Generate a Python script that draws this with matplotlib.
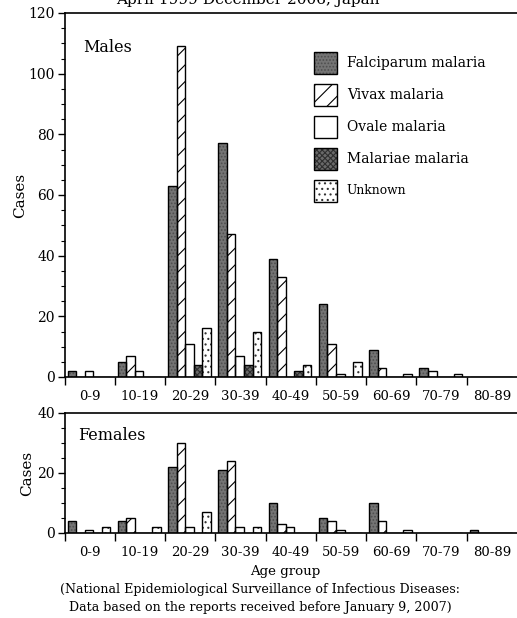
import numpy as np
import matplotlib
matplotlib.use("Agg")
import matplotlib.pyplot as plt
from matplotlib.patches import Rectangle

plt.rcParams["font.family"] = ["DejaVu Serif"]
plt.rcParams["hatch.linewidth"] = 0.8

age_groups = ["0-9", "10-19", "20-29", "30-39", "40-49", "50-59", "60-69", "70-79", "80-89"]
species = ["Falciparum malaria", "Vivax malaria", "Ovale malaria", "Malariae malaria", "Unknown"]

males_falciparum = [2, 5, 63, 77, 39, 24, 9, 3, 0]
males_vivax = [0, 7, 109, 47, 33, 11, 3, 2, 0]
males_ovale = [2, 2, 11, 7, 0, 1, 0, 0, 0]
males_malariae = [0, 0, 4, 4, 2, 0, 0, 0, 0]
males_unknown = [0, 0, 16, 15, 4, 5, 1, 1, 0]

females_falciparum = [4, 4, 22, 21, 10, 5, 10, 0, 1]
females_vivax = [0, 5, 30, 24, 3, 4, 4, 0, 0]
females_ovale = [1, 0, 2, 2, 2, 1, 0, 0, 0]
females_malariae = [0, 0, 0, 0, 0, 0, 0, 0, 0]
females_unknown = [2, 2, 7, 2, 0, 0, 1, 0, 0]

# fill, hatch colour, hatch pattern for each species
styles = [
    dict(face="#747474", hcol="#4e4e4e", hatch="....."),
    dict(face="white", hcol="black", hatch="//"),
    dict(face="white", hcol="white", hatch=""),
    dict(face="#6a6a6a", hcol="#2e2e2e", hatch="xxxxxx"),
    dict(face="white", hcol="#333333", hatch="..."),
]

BAR_W = 0.17
OFFSET = 0.06


def draw_bars(ax, series):
    x0 = np.arange(len(age_groups)) + OFFSET
    for j, vals in enumerate(series):
        st = styles[j]
        xs = x0 + j * BAR_W
        ax.bar(xs, vals, width=BAR_W, align="edge", color=st["face"],
               hatch=st["hatch"], edgecolor=st["hcol"], linewidth=0, zorder=2)
        ax.bar(xs, vals, width=BAR_W, align="edge", fill=False,
               edgecolor="black", linewidth=1.0, zorder=3)


def style_axis(ax, ymax, major, minor):
    ax.set_xlim(0, 9)
    ax.set_ylim(0, ymax)
    ax.spines["right"].set_visible(False)
    for s in ("left", "top", "bottom"):
        ax.spines[s].set_linewidth(1.2)
    ax.set_xticks(np.arange(0, 9))
    ax.set_xticklabels([])
    ax.set_xticks(np.arange(len(age_groups)) + 0.5, minor=True)
    ax.set_xticklabels(age_groups, minor=True, fontsize=9.5)
    ax.tick_params(axis="x", which="major", direction="out", length=6, width=1)
    ax.tick_params(axis="x", which="minor", length=0, pad=9)
    ax.set_yticks(np.arange(0, ymax + 1, major))
    ax.set_yticks(np.arange(0, ymax + 1, minor), minor=True)
    ax.tick_params(axis="y", which="major", direction="out", length=5, width=1,
                   labelsize=10, pad=2)
    ax.tick_params(axis="y", which="minor", direction="out", length=3, width=0.8)


fig = plt.figure(figsize=(5.17, 6.18), dpi=100)
W, H = 517, 618

ax_m = fig.add_axes([64.5 / W, 1 - 377 / H, (W - 64.5) / W, (377 - 13) / H])
ax_f = fig.add_axes([64.5 / W, 1 - 533 / H, (W - 64.5) / W, (533 - 413) / H])

draw_bars(ax_m, [males_falciparum, males_vivax, males_ovale, males_malariae, males_unknown])
draw_bars(ax_f, [females_falciparum, females_vivax, females_ovale, females_malariae, females_unknown])
style_axis(ax_m, 120, 20, 5)
style_axis(ax_f, 40, 20, 5)

ax_m.text(0.041, 0.904, "Males", transform=ax_m.transAxes, fontsize=11.5, va="center")
ax_f.text(0.03, 0.81, "Females", transform=ax_f.transAxes, fontsize=11.5, va="center")

# legend boxes
leg_y = [0.863, 0.775, 0.687, 0.599, 0.511]
for j, name in enumerate(species):
    st = styles[j]
    r = Rectangle((0.551, leg_y[j] - 0.03), 0.051, 0.06, transform=ax_m.transAxes,
                  facecolor=st["face"], hatch=st["hatch"], edgecolor=st["hcol"],
                  linewidth=0, zorder=4)
    ax_m.add_patch(r)
    ax_m.add_patch(Rectangle((0.551, leg_y[j] - 0.03), 0.051, 0.06,
                             transform=ax_m.transAxes, fill=False,
                             edgecolor="black", linewidth=1.0, zorder=5))
    ax_m.text(0.624, leg_y[j], name, transform=ax_m.transAxes,
              fontsize=8.8 if name == "Unknown" else 10, va="center")

fig.text(20 / W, 1 - 195 / H, "Cases", rotation=90, ha="center", va="center", fontsize=11)
fig.text(27 / W, 1 - 473 / H, "Cases", rotation=90, ha="center", va="center", fontsize=11)

fig.text(248 / W, 1 - 4 / H, "April 1999-December 2006, Japan", ha="center",
         va="baseline", fontsize=11)
fig.text(285 / W, 1 - 572 / H, "Age group", ha="center", va="center", fontsize=9.6)
fig.text(260 / W, 1 - 590 / H,
         "(National Epidemiological Surveillance of Infectious Diseases:",
         ha="center", va="center", fontsize=9.1)
fig.text(260 / W, 1 - 608 / H,
         "Data based on the reports received before January 9, 2007)",
         ha="center", va="center", fontsize=9.1)

fig.savefig("out.png", dpi=100)
